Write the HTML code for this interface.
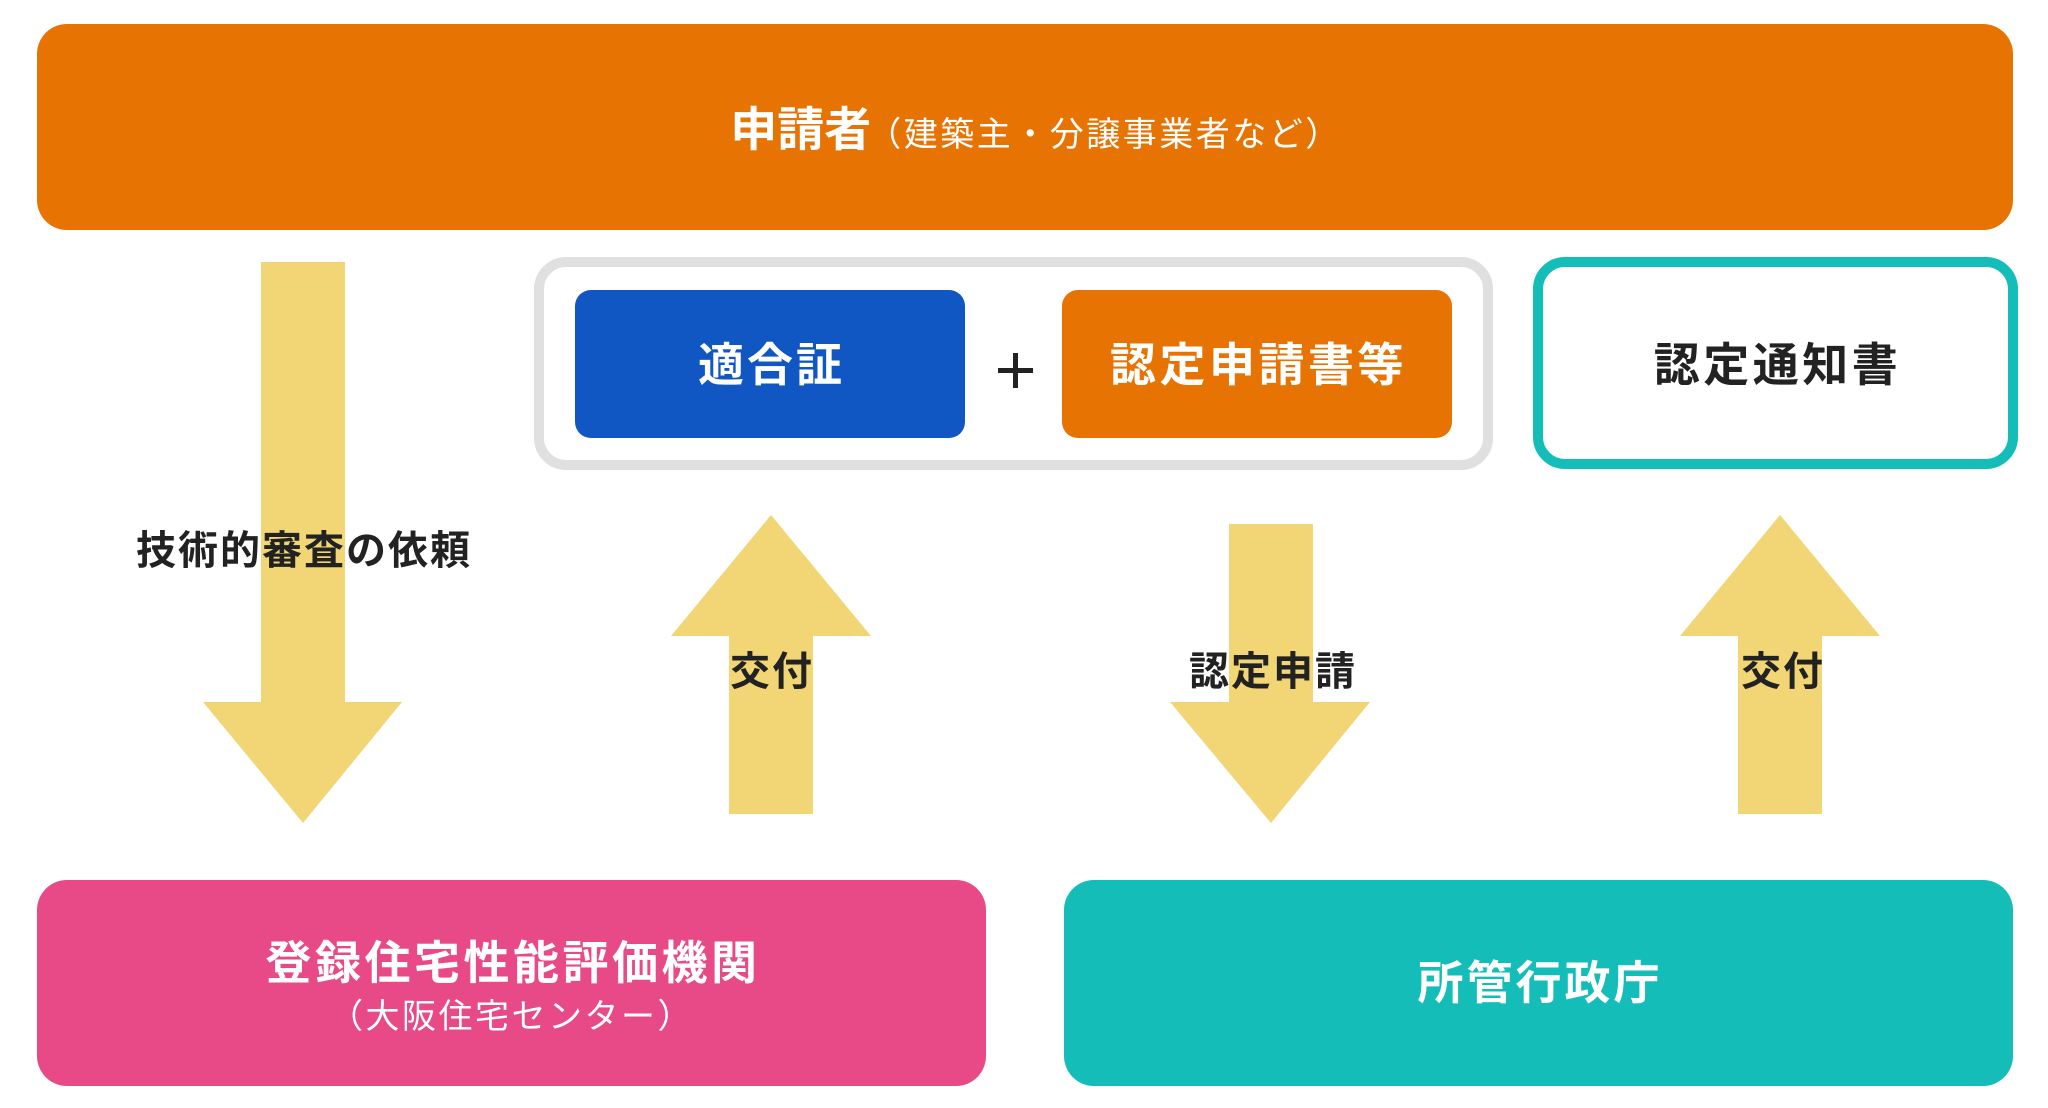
<!DOCTYPE html>
<html>
<head>
<meta charset="utf-8">
<style>
html,body{margin:0;padding:0;background:#fff;}
body{width:2048px;height:1108px;position:relative;overflow:hidden;font-family:"Liberation Sans","Noto Sans CJK JP",sans-serif;}
.abs{position:absolute;box-sizing:border-box;}
.center{display:flex;align-items:center;justify-content:center;flex-direction:column;text-align:center;}
.lbl{font-weight:700;white-space:nowrap;line-height:1;}
</style>
</head>
<body>

<!-- Top applicant box -->
<div class="abs center" style="left:37px;top:24px;width:1976px;height:206px;background:#e77302;border-radius:30px;">
  <div class="lbl" style="color:#fff;font-size:47px;margin-top:4px;margin-left:22px;">申請者<span style="font-weight:400;font-size:34px;letter-spacing:2.5px;margin-left:-4px;">（建築主・分譲事業者など）</span></div>
</div>

<!-- Arrows -->
<svg class="abs" style="left:0;top:0;" width="2048" height="1108" viewBox="0 0 2048 1108">
  <g fill="#f2d574">
    <rect x="261" y="262" width="84" height="441"/>
    <polygon points="203,702 402,702 303,823"/>
    <rect x="1229" y="524" width="84" height="179"/>
    <polygon points="1170,702 1370,702 1271,823"/>
    <rect x="729" y="635" width="84" height="179"/>
    <polygon points="671,636 871,636 771,515"/>
    <rect x="1738" y="635" width="84" height="179"/>
    <polygon points="1680,636 1880,636 1780,515"/>
  </g>
  <g fill="#222">
    <rect x="998" y="368" width="35" height="5"/>
    <rect x="1013" y="353" width="5" height="35"/>
  </g>
</svg>

<!-- Gray container -->
<div class="abs" style="left:534px;top:257px;width:959px;height:213px;border:10px solid #e0e0e0;border-radius:32px;background:transparent;"></div>

<!-- 適合証 -->
<div class="abs center" style="left:575px;top:290px;width:390px;height:148px;background:#1057c3;border-radius:16px;">
  <div class="lbl" style="color:#fff;font-size:46px;letter-spacing:3px;margin-left:3px;margin-top:2px;">適合証</div>
</div>

<!-- 認定申請書等 -->
<div class="abs center" style="left:1062px;top:290px;width:390px;height:148px;background:#e77302;border-radius:16px;">
  <div class="lbl" style="color:#fff;font-size:46px;letter-spacing:3.5px;margin-left:3px;margin-top:2px;">認定申請書等</div>
</div>

<!-- 認定通知書 -->
<div class="abs center" style="left:1533px;top:257px;width:485px;height:212px;border:10px solid #14bdb7;border-radius:32px;background:#fff;">
  <div class="lbl" style="color:#222;font-size:46px;letter-spacing:3.5px;margin-left:4px;margin-top:4px;">認定通知書</div>
</div>

<!-- Arrow labels -->
<div class="abs center lbl" style="left:104px;top:531px;width:400px;height:40px;color:#222;font-size:40px;letter-spacing:2px;">技術的審査の依頼</div>
<div class="abs center lbl" style="left:672px;top:652px;width:200px;height:40px;color:#222;font-size:40px;letter-spacing:2px;">交付</div>
<div class="abs center lbl" style="left:1173px;top:652px;width:200px;height:40px;color:#222;font-size:40px;letter-spacing:2px;">認定申請</div>
<div class="abs center lbl" style="left:1683px;top:652px;width:200px;height:40px;color:#222;font-size:40px;letter-spacing:2px;">交付</div>

<!-- Pink box -->
<div class="abs center" style="left:37px;top:880px;width:949px;height:206px;background:#e74a87;border-radius:30px;">
  <div class="lbl" style="color:#fff;font-size:46px;letter-spacing:3.5px;margin-left:3px;margin-top:8px;">登録住宅性能評価機関</div>
  <div class="lbl" style="color:#fff;font-size:34px;font-weight:400;letter-spacing:2.5px;margin-top:14px;">（大阪住宅センター）</div>
</div>

<!-- Teal box bottom -->
<div class="abs center" style="left:1064px;top:880px;width:949px;height:206px;background:#14bdb7;border-radius:30px;">
  <div class="lbl" style="color:#fff;font-size:46px;letter-spacing:3px;margin-left:3px;">所管行政庁</div>
</div>

</body>
</html>
